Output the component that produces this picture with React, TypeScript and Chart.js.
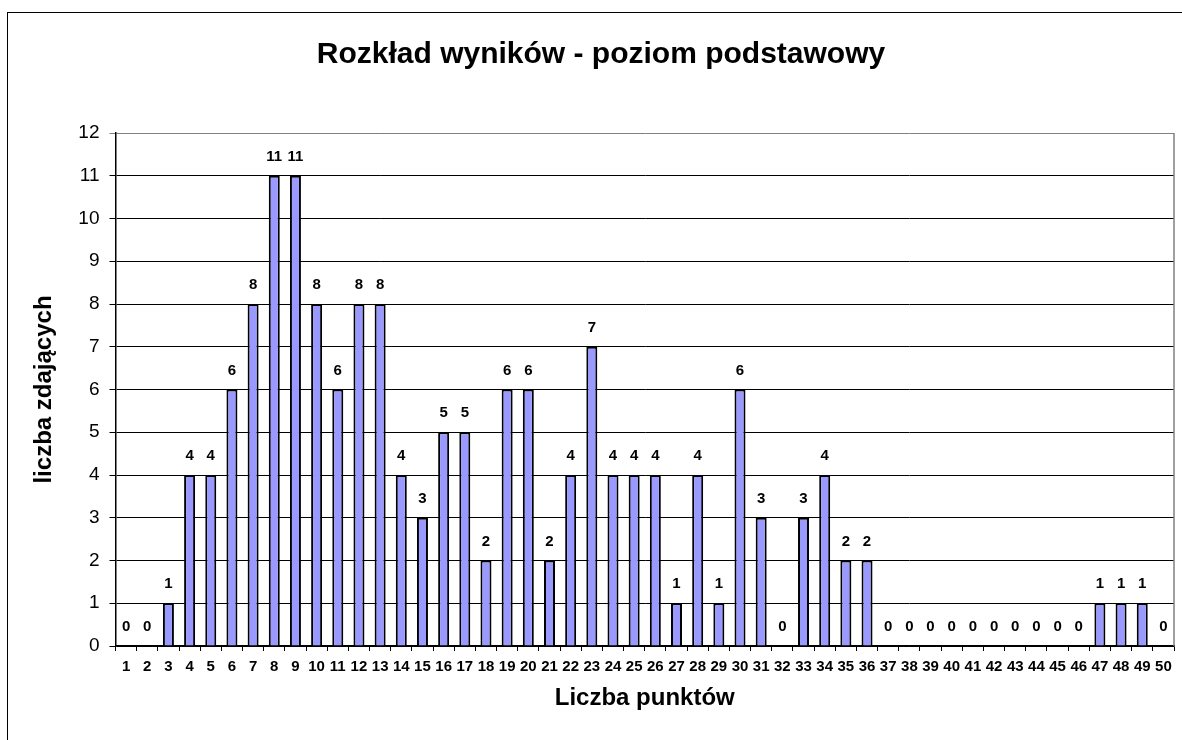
import React, { useEffect, useRef } from "react";
import { Chart, registerables } from "chart.js";

Chart.register(...registerables);

const FONT = 'Arial, "Liberation Sans", sans-serif';

const chartTitle = "Rozkład wyników - poziom podstawowy";
const xAxisTitle = "Liczba punktów";
const yAxisTitle = "liczba zdających";

const categories: string[] = [
  "1","2","3","4","5","6","7","8","9","10",
  "11","12","13","14","15","16","17","18","19","20",
  "21","22","23","24","25","26","27","28","29","30",
  "31","32","33","34","35","36","37","38","39","40",
  "41","42","43","44","45","46","47","48","49","50",
];

const counts: number[] = [
  0, 0, 1, 4, 4, 6, 8, 11, 11, 8,
  6, 8, 8, 4, 3, 5, 5, 2, 6, 6,
  2, 4, 7, 4, 4, 4, 1, 4, 1, 6,
  3, 0, 3, 4, 2, 2, 0, 0, 0, 0,
  0, 0, 0, 0, 0, 0, 1, 1, 1, 0,
];

const yMin = 0;
const yMax = 12;
const yStep = 1;

const valueLabels = {
  id: "valueLabels",
  afterDatasetsDraw(chart: any) {
    const ctx = chart.ctx;
    const meta = chart.getDatasetMeta(0);
    const data = chart.data.datasets[0].data;
    ctx.save();
    ctx.font = `bold 15px ${FONT}`;
    ctx.fillStyle = "#000";
    ctx.textAlign = "center";
    ctx.textBaseline = "middle";
    meta.data.forEach((bar: any, i: number) => {
      ctx.fillText(String(data[i]), bar.x, bar.y - 19);
    });
    ctx.restore();
  },
};

const frameExtras = {
  id: "frameExtras",
  afterDraw(chart: any) {
    const { ctx, chartArea } = chart;
    ctx.save();
    ctx.strokeStyle = "#808080";
    ctx.lineWidth = 1.5;
    ctx.beginPath();
    ctx.moveTo(chartArea.right, chartArea.top);
    ctx.lineTo(chartArea.right, chartArea.bottom);
    ctx.stroke();
    ctx.font = `bold 30px ${FONT}`;
    ctx.fillStyle = "#000";
    ctx.textAlign = "center";
    ctx.textBaseline = "alphabetic";
    ctx.fillText(chartTitle, 601, 63);
    ctx.restore();
  },
};

export default function App() {
  const canvasRef = useRef<HTMLCanvasElement | null>(null);

  useEffect(() => {
    if (!canvasRef.current) return;
    const chart = new Chart(canvasRef.current, {
      type: "bar",
      data: {
        labels: categories,
        datasets: [
          {
            data: counts,
            backgroundColor: "#9999FF",
            borderColor: "#000000",
            borderWidth: 2,
            categoryPercentage: 1,
            barPercentage: 0.52,
          },
        ],
      },
      options: {
        animation: false,
        responsive: false,
        maintainAspectRatio: false,
        layout: { padding: { top: 133, left: 0, right: 8, bottom: 17.6 } },
        plugins: {
          legend: { display: false },
          title: { display: false },
          tooltip: { enabled: false },
        },
        scales: {
          x: {
            afterFit: (scale: any) => {
              scale.height = 76.4;
            },
            grid: {
              drawOnChartArea: false,
              drawTicks: true,
              tickLength: 5,
              color: "#000",
              offset: true,
            },
            border: { display: true, color: "#000", width: 1.5 },
            ticks: {
              color: "#000",
              font: { family: FONT, size: 15, weight: "bold" },
              padding: 7,
              maxRotation: 0,
              autoSkip: false,
            },
            title: {
              display: true,
              text: xAxisTitle,
              color: "#000",
              font: { family: FONT, size: 24, weight: "bold" },
              padding: { top: 0, bottom: 10 },
            },
          },
          y: {
            min: yMin,
            max: yMax,
            afterFit: (scale: any) => {
              scale.width = 115.5;
            },
            grid: {
              color: (c: any) => (c.tick && c.tick.value === yMax ? "#808080" : "#000"),
              lineWidth: 1,
              tickLength: 6,
              drawTicks: true,
            },
            border: { display: true, color: "#000", width: 1.5 },
            ticks: {
              stepSize: yStep,
              color: "#000",
              font: { family: FONT, size: 19 },
              padding: 10,
            },
            title: {
              display: true,
              text: yAxisTitle,
              color: "#000",
              font: { family: FONT, size: 24, weight: "bold" },
              padding: { top: 30, bottom: 0 },
            },
          },
        },
      },
      plugins: [valueLabels, frameExtras],
    });
    return () => chart.destroy();
  }, []);

  return (
    <div style={{ position: "absolute", left: 0, top: 0, width: 1182, height: 740, background: "#fff", overflow: "hidden" }}>
      <div
        style={{
          position: "absolute",
          left: 7,
          top: 12,
          width: 1182,
          height: 740,
          borderLeft: "1px solid #000",
          borderTop: "1px solid #000",
        }}
      />
      <canvas ref={canvasRef} width={1182} height={740} style={{ position: "absolute", left: 0, top: 0, width: 1182, height: 740 }} />
    </div>
  );
}
